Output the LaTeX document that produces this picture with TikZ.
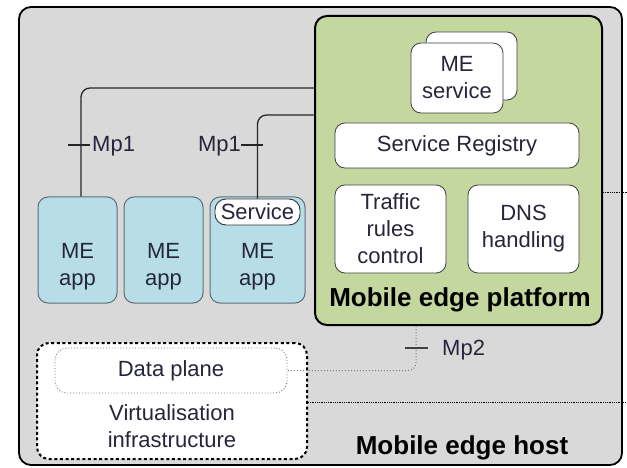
\documentclass[tikz,border=0pt]{standalone}
\usepackage{fontspec}
\setmainfont{Liberation Sans}
\definecolor{hostgray}{HTML}{D9D9D9}
\definecolor{platgreen}{HTML}{C4D79E}
\definecolor{appblue}{HTML}{B7DDE8}
\definecolor{appedge}{HTML}{5E6E72}
\definecolor{txt}{HTML}{26263A}
\begin{document}
\begin{tikzpicture}[x=1pt,y=-1pt,
  every node/.style={font=\fontsize{22}{27}\selectfont, text=txt, align=center, inner sep=0pt},
  hostbox/.style={draw=black, line width=1.8pt, fill=hostgray, rounded corners=12pt},
  platbox/.style={draw=black, line width=2pt, fill=platgreen, rounded corners=12pt},
  whitebox/.style={draw=black!75, line width=0.8pt, fill=white, rounded corners=10pt},
  appbox/.style={draw=appedge, line width=1pt, fill=appblue, rounded corners=10pt},
  pillbox/.style={draw=black!80, line width=0.9pt, fill=white, rounded corners=11pt},
  virtbox/.style={draw=black, line width=2pt, fill=white, dash pattern=on 3pt off 2.6pt, rounded corners=12pt},
  planebox/.style={draw=black!55, line width=0.9pt, dotted, rounded corners=12pt},
  boldlab/.style={font=\fontsize{26}{30}\selectfont\bfseries, text=black},
  mpline/.style={draw=black!85, line width=1.3pt, rounded corners=9pt},
  mptick/.style={draw=black!85, line width=1.3pt},
  mp2line/.style={draw=black!50, line width=1pt, dotted, rounded corners=8pt},
  refline/.style={draw=black, line width=0.8pt, densely dotted}
]
\useasboundingbox (0,0) rectangle (627,468);

% Mobile edge host
\node[hostbox, minimum width=603pt, minimum height=458pt] (host) at (320.5,236) {};
\node[boldlab] (hostlab) at (462,448) {Mobile edge host};

% Mobile edge platform and its services
\node[platbox, minimum width=287pt, minimum height=309pt] (plat) at (458.5,170.5) {};
\node[whitebox, minimum width=91pt, minimum height=68pt] (svcback) at (471.5,66) {};
\node[whitebox, minimum width=92pt, minimum height=70pt] (svcfront) at (457,78) {ME\\service};
\node[whitebox, minimum width=244pt, minimum height=45pt] (registry) at (457,145.5) {Service Registry};
\node[whitebox, minimum width=111pt, minimum height=88pt] (traffic) at (390.5,229) {Traffic\\rules\\control};
\node[whitebox, minimum width=111pt, minimum height=88pt] (dns) at (523.5,229) {DNS\\handling};
\node[boldlab] (platlab) at (460,300) {Mobile edge platform};

% ME applications
\node[appbox, minimum width=79pt, minimum height=106pt] (app1) at (77.5,250) {};
\node[appbox, minimum width=79pt, minimum height=106pt] (app2) at (163.5,250) {};
\node[appbox, minimum width=95pt, minimum height=106pt] (app3) at (257.5,250) {};
\node (app1t) at (77.5,267) {ME\\app};
\node (app2t) at (163.5,267) {ME\\app};
\node (app3t) at (257.5,267) {ME\\app};
\node[pillbox, minimum width=85pt, minimum height=26pt] (svc) at (257.5,212) {Service};

% Virtualisation infrastructure with data plane
\node[virtbox, minimum width=270pt, minimum height=116pt] (virt) at (172,401) {};
\node[planebox, minimum width=232pt, minimum height=45pt] (dplane) at (171,370.5) {Data plane};
\node (virtlab) at (172,426) {Virtualisation\\infrastructure};

% Mp1 reference points
\draw[mpline] ([xshift=3.5pt]app1.north) |- (plat.west |- 0,88);
\draw[mpline] (svc.north) |- (plat.west |- 0,115);
\coordinate (t1a) at (68,145); \coordinate (t1b) at (90,145);
\draw[mptick] (t1a) -- (t1b);
\node[anchor=west] (mp1a) at (92,146) {Mp1};
\coordinate (t2a) at (241,145); \coordinate (t2b) at (263,145);
\draw[mptick] (t2a) -- (t2b);
\node[anchor=east] (mp1b) at (241,146) {Mp1};

% Mp2 reference point
\draw[mp2line] (plat.south -| 416,0) |- (dplane.east);
\coordinate (t3a) at (405,348); \coordinate (t3b) at (428,348);
\draw[mptick, line width=1.2pt, draw=black!75] (t3a) -- (t3b);
\node[anchor=west] (mp2) at (442,350) {Mp2};

% Reference lines leaving the host
\coordinate (outA) at (627,192);
\coordinate (outB) at (627,402);
\draw[refline] (plat.east |- outA) -- (outA);
\draw[refline] (virt.east |- outB) -- (outB);
\end{tikzpicture}
\end{document}
